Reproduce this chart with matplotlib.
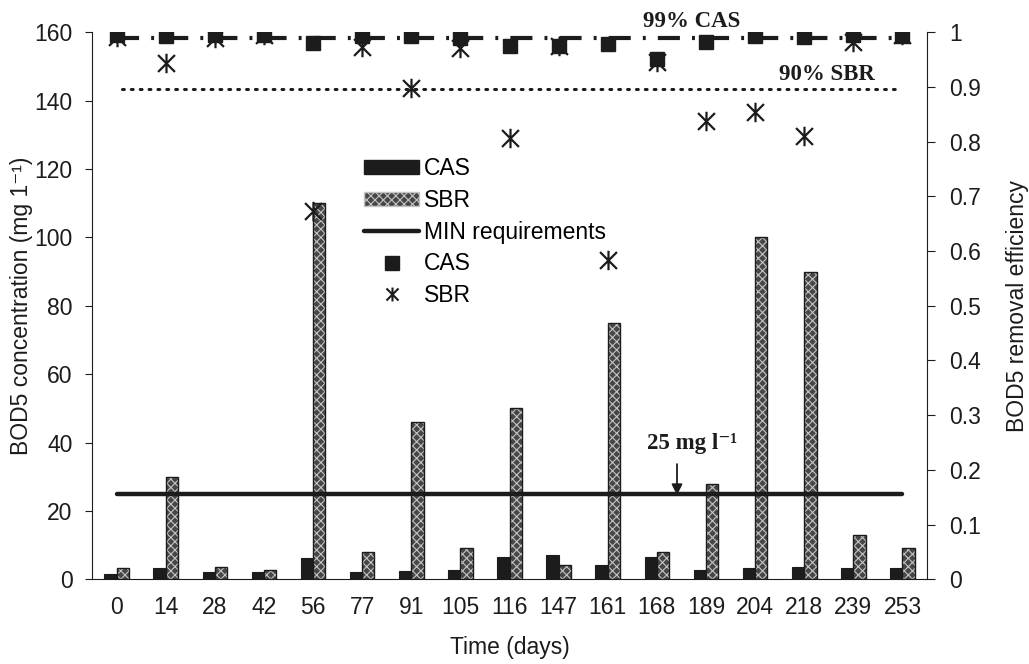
import numpy as np
import matplotlib
matplotlib.use("Agg")
import matplotlib.pyplot as plt
from matplotlib.patches import Patch
from matplotlib.lines import Line2D
from matplotlib.path import Path

plt.rcParams['font.family'] = ['Liberation Sans', 'DejaVu Sans']
plt.rcParams['hatch.linewidth'] = 0.8

days = ['0', '14', '28', '42', '56', '77', '91', '105', '116', '147',
        '161', '168', '189', '204', '218', '239', '253']
cas_bod = [1.6, 3.4, 2.0, 2.0, 6.2, 2.0, 2.4, 2.8, 6.6, 7.1,
           4.1, 6.5, 2.7, 3.4, 3.7, 3.2, 3.2]
sbr_bod = [3.2, 30, 3.6, 2.7, 110, 8.0, 46, 9.1, 50, 4.1,
           75, 7.9, 28, 100, 90, 12.9, 9.2]
cas_eff = [0.995, 0.993, 0.995, 0.995, 0.981, 0.993, 0.994, 0.99, 0.974, 0.974,
           0.978, 0.952, 0.983, 0.994, 0.992, 0.995, 0.993]
sbr_eff = [0.992, 0.943, 0.989, 0.995, 0.674, 0.973, 0.898, 0.971, 0.806, 0.975,
           0.584, 0.946, 0.837, 0.855, 0.810, 0.983, 0.995]
min_req = 25
cas_target = 0.989
sbr_target = 0.896

ink = '#1c1c1c'
serif = ['Liberation Serif', 'DejaVu Serif']
fs = 16.5

# excel style star: an X with a vertical bar through it
star = Path([(-1, -1), (1, 1), (-1, 1), (1, -1), (0, -1.15), (0, 1.15)],
            [Path.MOVETO, Path.LINETO, Path.MOVETO, Path.LINETO, Path.MOVETO, Path.LINETO])

x = np.arange(len(days))
w = 0.25

fig = plt.figure(figsize=(10.29, 6.64), dpi=100)
ax = fig.add_axes([0.0894, 0.1276, 0.8115, 0.8238])
ax2 = ax.twinx()

sbr_face = '#474747'
ax.bar(x - w / 2, cas_bod, w, color=ink, edgecolor=ink, linewidth=0.8, zorder=2)
ax.bar(x + w / 2, sbr_bod, w, color=sbr_face, edgecolor='#c4c4c4', hatch='xxxx', linewidth=0, zorder=2)
ax.bar(x + w / 2, sbr_bod, w, fill=False, edgecolor=ink, linewidth=1.0, zorder=3)
ax.plot([x[0], x[-1]], [min_req, min_req], color=ink, lw=3.2, solid_capstyle='round', zorder=4)

# label and arrow for the 25 mg/l limit
ax.text(11.72, 38, '25 mg l\u207b\u00b9', ha='center', va='baseline', fontsize=fs,
        fontweight='bold', family=serif, color=ink)
ax.annotate('', xy=(11.41, min_req - 1.2), xytext=(11.41, 34.5),
            arrowprops=dict(arrowstyle='-|>', color=ink, lw=1.3, mutation_scale=16))

ax.set_xlim(-0.5, len(days) - 0.5)
ax.set_ylim(0, 160)
ax.set_yticks(range(0, 161, 20))
ax.set_xticks(x)
ax.set_xticklabels(days)
ax.tick_params(axis='x', length=0, pad=12, labelsize=fs, colors=ink)
ax.tick_params(axis='y', direction='out', length=5, pad=9, labelsize=fs, colors=ink)
ax.set_xlabel('Time (days)', fontsize=fs, labelpad=12, color=ink)
ax.set_ylabel('BOD5 concentration (mg 1\u207b\u00b9)', fontsize=fs, labelpad=1, color=ink)

for s in ['top', 'right']:
    ax.spines[s].set_visible(False)
for s in ['top', 'left', 'bottom']:
    ax2.spines[s].set_visible(False)
for s in ['bottom', 'left']:
    ax.spines[s].set_color(ink)
ax2.spines['right'].set_color(ink)

ax2.plot([x[0], x[-1]], [cas_target, cas_target], color=ink, lw=3,
         linestyle=(0, (5.3, 2.9, 0.7, 2.9)), zorder=2)
ax2.plot([0.12, 15.9], [sbr_target, sbr_target], color=ink, lw=2.2,
         linestyle=(0, (0.6, 2.3)), dash_capstyle='round', zorder=2)
ax2.plot(x, cas_eff, marker='s', markersize=10, color=ink, linestyle='none', zorder=4)
ax2.plot(x, sbr_eff, marker=star, markersize=14, markerfacecolor='none', markeredgecolor=ink,
         markeredgewidth=1.6, linestyle='none', zorder=5)

ax2.text(11.7, 1.009, '99% CAS', ha='center', va='baseline', fontsize=fs, fontweight='bold',
         family=serif, color=ink)
ax2.text(14.47, 0.913, '90% SBR', ha='center', va='baseline', fontsize=fs, fontweight='bold',
         family=serif, color=ink)

ax2.set_ylim(0, 1)
ax2.set_yticks([0, 0.1, 0.2, 0.3, 0.4, 0.5, 0.6, 0.7, 0.8, 0.9, 1])
ax2.set_yticklabels(['0', '0.1', '0.2', '0.3', '0.4', '0.5', '0.6', '0.7', '0.8', '0.9', '1'])
ax2.tick_params(axis='y', direction='out', length=6, pad=10, labelsize=fs, colors=ink)
ax2.set_ylabel('BOD5 removal efficiency', fontsize=fs, labelpad=18, color=ink)

handles = [
    Patch(facecolor=ink, edgecolor=ink),
    Patch(facecolor=sbr_face, edgecolor='#c4c4c4', hatch='xxxx'),
    Line2D([], [], color=ink, lw=3.2, solid_capstyle='round'),
    Line2D([], [], color=ink, marker='s', markersize=10, linestyle='none'),
    Line2D([], [], marker=star, markersize=10, markerfacecolor='none', markeredgecolor=ink,
           markeredgewidth=1.5, linestyle='none'),
]
labels = ['CAS', 'SBR', 'MIN requirements', 'CAS', 'SBR']
ax2.legend(handles, labels, loc='upper left', bbox_to_anchor=(355 / 1029, 1 - 148 / 664),
           bbox_transform=fig.transFigure, frameon=False, fontsize=fs,
           handlelength=2.4, handleheight=0.55, handletextpad=0.2, labelspacing=0.38,
           borderaxespad=0)

fig.savefig('out.png', dpi=100)
